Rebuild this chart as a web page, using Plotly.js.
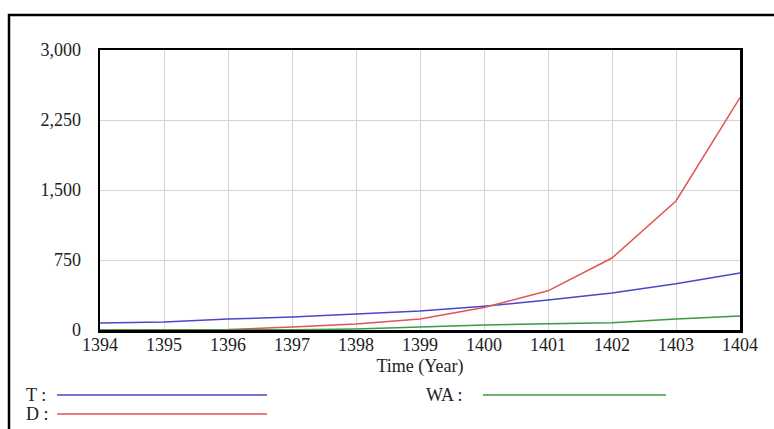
<!DOCTYPE html>
<html>
<head>
<meta charset="utf-8">
<script src="https://cdn.plot.ly/plotly-3.0.1.min.js"></script>
<style>
html,body{margin:0;padding:0;background:#fff;}
#chart{width:774px;height:429px;}
</style>
</head>
<body>
<div id="chart"></div>
<script>
// Data (Vensim-style simulation output)
const years = [1394, 1395, 1396, 1397, 1398, 1399, 1400, 1401, 1402, 1403, 1404];
const T  = [75, 86, 118, 139, 171, 204, 255, 321, 396, 495, 610];
const D  = [0, 0, 5, 32, 64, 118, 240, 420, 771, 1382, 2490];
const WA = [0, 0, 0, 3, 10, 32, 54, 66, 78, 118, 150];
const seriesNames = ["T", "D", "WA"];
const seriesColors = ["#4848c8", "#e05555", "#3f9a3f"];
const yTicks = [0, 750, 1500, 2250, 3000];

const serif = "Liberation Serif, Times New Roman, serif";
const W = 774, H = 429;
const m = {l: 100, r: 34, t: 50, b: 99};
const pw = W - m.l - m.r, ph = H - m.t - m.b;
const px2x = p => (p - m.l) / pw;
const py2y = p => (H - m.b - p) / ph;

const seriesData = [T, D, WA];
const traces = seriesData.map((vals, i) => ({
  x: years, y: vals, type: "scatter", mode: "lines",
  name: seriesNames[i],
  line: {color: seriesColors[i], width: 1.5},
  hoverinfo: "x+y+name"
}));

// legend layout (Vensim style: "name : ———")
const legendSpec = [
  {idx: 0, tx: 24, lx0: 57, lx1: 267, y: 395},
  {idx: 1, tx: 24, lx0: 57, lx1: 267, y: 414},
  {idx: 2, tx: 424, lx0: 483, lx1: 666, y: 395}
];

const shapes = [
  {type: "rect", xref: "paper", yref: "paper",
   x0: px2x(9), x1: px2x(800), y0: py2y(15), y1: py2y(460),
   line: {color: "#000", width: 2.5}, fillcolor: "rgba(0,0,0,0)"}
];
const annotations = [];
legendSpec.forEach(s => {
  shapes.push({type: "line", xref: "paper", yref: "paper",
    x0: px2x(s.lx0), x1: px2x(s.lx1), y0: py2y(s.y), y1: py2y(s.y),
    line: {color: seriesColors[s.idx], width: 1.5}});
  annotations.push({xref: "paper", yref: "paper", x: px2x(s.tx), y: py2y(s.y),
    xanchor: "left", yanchor: "middle", showarrow: false,
    text: seriesNames[s.idx] + " :", font: {family: serif, size: 18, color: "#222"}});
});

const layout = {
  width: W, height: H,
  margin: m,
  paper_bgcolor: "#fff", plot_bgcolor: "#fff",
  showlegend: false,
  xaxis: {
    range: [1394, 1404], tickmode: "array", tickvals: years, ticktext: years.map(String),
    showgrid: true, gridcolor: "#d4d4d4", gridwidth: 1,
    zeroline: false, showline: true, linecolor: "#000", linewidth: 2.5, mirror: true,
    ticks: "", ticklabelstandoff: -3, tickfont: {family: serif, size: 18, color: "#222"},
    title: {text: "Time (Year)", font: {family: serif, size: 18, color: "#222"}, standoff: 6}
  },
  yaxis: {
    range: [0, 3000], tickmode: "array", tickvals: yTicks, tickformat: ",",
    showgrid: true, gridcolor: "#d4d4d4", gridwidth: 1,
    zeroline: false, showline: true, linecolor: "#000", linewidth: 2.5, mirror: true,
    ticks: "", ticklabelstandoff: 13, tickfont: {family: serif, size: 18, color: "#222"}
  },
  shapes: shapes,
  annotations: annotations
};

Plotly.newPlot("chart", traces, layout, {displayModeBar: false, staticPlot: true});
</script>
</body>
</html>
